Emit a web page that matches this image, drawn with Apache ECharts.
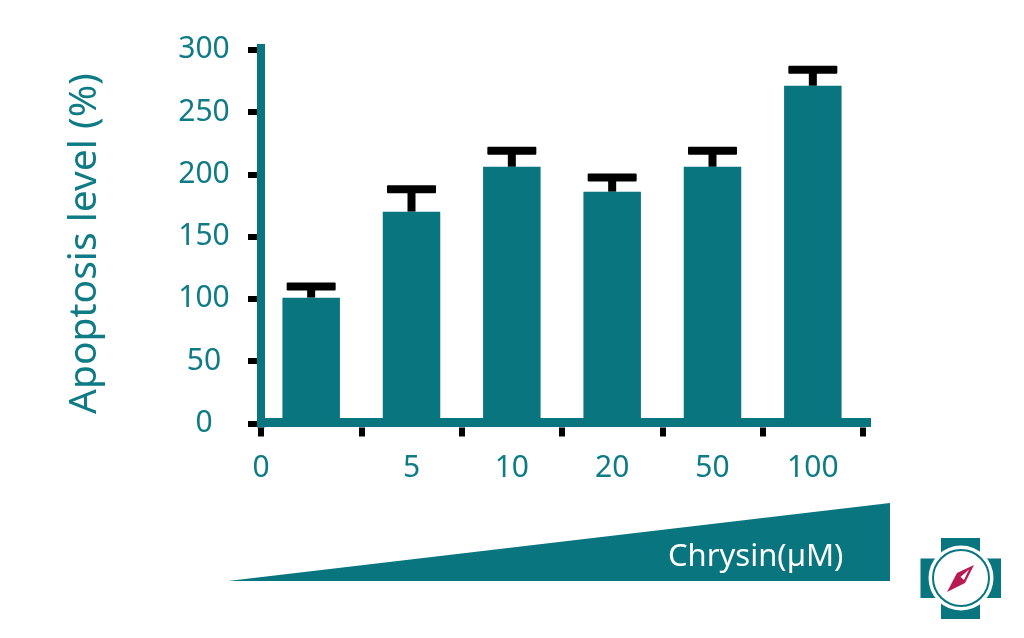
<!DOCTYPE html>
<html>
<head>
<meta charset="utf-8">
<style>html,body{margin:0;padding:0;background:#fff}#c{width:1024px;height:638px}</style>
<script src="https://cdn.jsdelivr.net/npm/echarts@6/dist/echarts.min.js"></script>
</head>
<body>
<div id="c"></div>
<script>
const categories = ['0', '5', '10', '20', '50', '100'];
const barValues = [101, 170, 206, 186, 206, 271];
const errorTops = [110, 188, 219, 197.5, 219, 284];
const yTitle = 'Apoptosis level (%)';
const wedgeLabel = 'Chrysin(µM)';
const teal = '#08757F';
const textTeal = '#0F7B85';
const font = '"Noto Sans"';

const chart = echarts.init(document.getElementById('c'), null, {renderer: 'canvas'});
chart.setOption({
  animation: false,
  backgroundColor: '#fff',
  grid: {left: 261, right: 161, top: 49.7, bottom: 214.5, containLabel: false},
  xAxis: [
    {
      type: 'category', data: categories, position: 'bottom', offset: -1,
      axisLine: {show: true, onZero: false, lineStyle: {color: teal, width: 9}},
      axisTick: {show: false},
      axisLabel: {
        color: textTeal, fontFamily: font, fontSize: 30, margin: 31,
        interval: 0, formatter: (v, i) => i === 0 ? '' : v
      }
    },
    {
      type: 'value', min: 0, max: 6, interval: 1, position: 'bottom', offset: 4,
      splitLine: {show: false},
      axisLine: {show: false, onZero: false},
      axisTick: {show: true, length: 9, lineStyle: {color: '#000', width: 6}},
      axisLabel: {
        color: textTeal, fontFamily: font, fontSize: 30, margin: 26,
        customValues: [0], formatter: () => categories[0]
      }
    }
  ],
  yAxis: [
    {
      type: 'value', min: 0, max: 300, interval: 50,
      name: yTitle, nameLocation: 'middle', nameGap: 157, nameRotate: 90,
      nameTextStyle: {color: textTeal, fontFamily: font, fontSize: 39, padding: [0, 14, 0, 0]},
      splitLine: {show: false},
      axisLine: {show: true, onZero: false, lineStyle: {color: teal, width: 8, cap: 'square'}},
      axisTick: {show: false},
      axisLabel: {color: textTeal, fontFamily: font, fontSize: 30, align: 'center', margin: 57}
    },
    {
      type: 'value', min: 0, max: 300, interval: 50, position: 'left', offset: 4,
      splitLine: {show: false},
      axisLine: {show: false, onZero: false},
      axisTick: {show: true, length: 9, lineStyle: {color: '#000', width: 6}},
      axisLabel: {show: false}
    }
  ],
  series: [
    {
      type: 'custom', xAxisIndex: 0, yAxisIndex: 0, z: 3,
      data: categories.map((c, i) => [i, barValues[i], errorTops[i]]),
      encode: {x: 0, y: [1, 2]},
      renderItem: (params, api) => {
        const base = api.coord([api.value(0), api.value(1)]);
        const top = api.coord([api.value(0), api.value(2)]);
        const st = {fill: '#000', stroke: null};
        return {type: 'group', children: [
          {type: 'rect', shape: {x: base[0] - 4, y: top[1], width: 8, height: base[1] - top[1]}, style: st},
          {type: 'rect', shape: {x: base[0] - 24.5, y: top[1] - 4, width: 49, height: 8, r: 1}, style: st}
        ]};
      }
    },
    {
      type: 'bar', xAxisIndex: 0, yAxisIndex: 0, z: 4,
      data: barValues, barWidth: 57.5,
      itemStyle: {color: teal}
    }
  ],
  graphic: [
    {type: 'rect', shape: {x: 860, y: 418, width: 11, height: 9}, style: {fill: teal}, z: 1},
    {type: 'rect', shape: {x: 257, y: 44, width: 8, height: 8}, style: {fill: teal}, z: 1},
    {type: 'polygon', shape: {points: [[228, 581], [890, 503], [890, 581]]}, style: {fill: teal}},
    {type: 'text', style: {x: 668, y: 557, text: wedgeLabel, fill: '#fff', font: '31px ' + font, verticalAlign: 'middle'}},
    {type: 'rect', shape: {x: 941, y: 538, width: 39, height: 81}, style: {fill: teal}},
    {type: 'rect', shape: {x: 920.5, y: 558.5, width: 80.5, height: 39.5}, style: {fill: teal}},
    {type: 'circle', shape: {cx: 961, cy: 578, r: 32.5}, style: {fill: '#fff'}},
    {type: 'circle', shape: {cx: 961, cy: 578, r: 28}, style: {fill: '#fff', stroke: teal, lineWidth: 2}},
    {type: 'polygon', shape: {points: [[974, 565], [957, 573], [947, 592], [965, 583]]}, style: {fill: '#B81B54'}},
    {type: 'polygon', shape: {points: [[960.5, 577], [969, 569.5], [964, 580]]}, style: {fill: '#fff'}}
  ]
});
</script>
</body>
</html>
